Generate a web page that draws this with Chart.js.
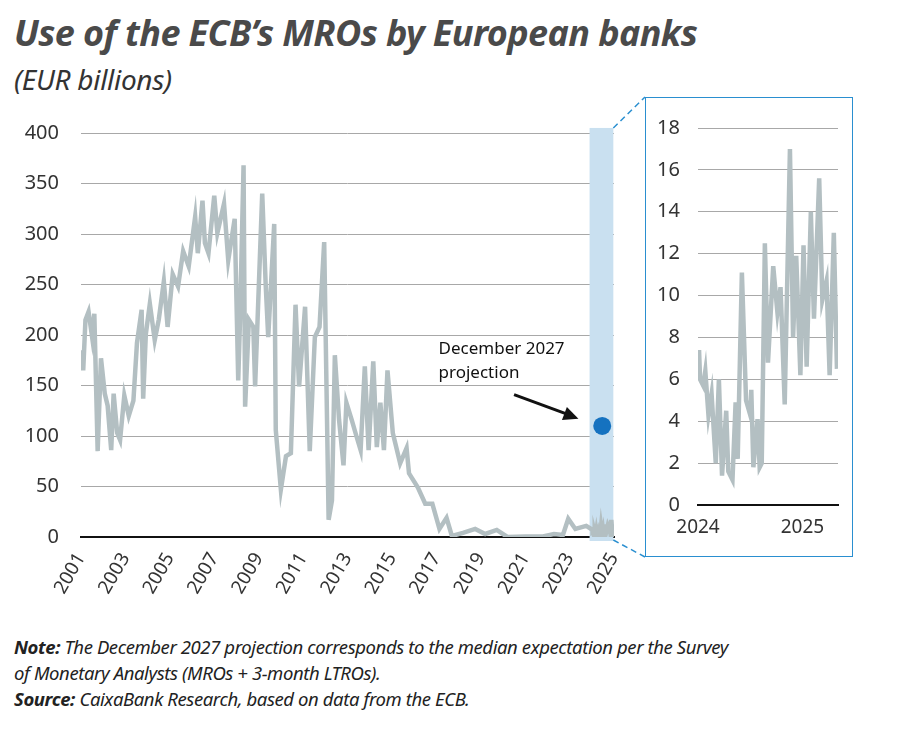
<!DOCTYPE html>
<html><head><meta charset="utf-8">
<script src="https://cdn.jsdelivr.net/npm/chart.js@4/dist/chart.umd.min.js"></script>
<style>
body{margin:0;width:900px;height:748px;background:#fff;position:relative;font-family:"Noto Sans",sans-serif;color:#333;overflow:hidden}
#title{position:absolute;left:14px;top:8px;font-size:36px;font-weight:bold;font-style:italic;color:#4a4a4a;letter-spacing:-0.6px}
#sub{position:absolute;left:14px;top:60px;font-size:28px;font-style:italic;color:#333;letter-spacing:-0.3px}
#main{position:absolute;left:0;top:90px}
#box{position:absolute;left:645px;top:97px;width:206px;height:458px;border:1.5px solid #2a8fd0}
#inset{position:absolute;left:0;top:0}
#note{position:absolute;left:14px;top:634px;font-size:18.5px;font-style:italic;line-height:26px;color:#222;width:850px;letter-spacing:-0.4px}
</style></head><body>
<div id="title">Use of the ECB’s MROs by European banks</div>
<div id="sub">(EUR billions)</div>
<canvas id="main" width="660" height="520" style="width:660px;height:520px"></canvas>
<div id="box"><canvas id="inset" width="206" height="458" style="width:206px;height:458px"></canvas></div>
<div id="note"><b>Note:</b> The December 2027 projection corresponds to the median expectation per the Survey<br>of Monetary Analysts (MROs + 3-month LTROs).<br><b>Source:</b> CaixaBank Research, based on data from the ECB.</div>
<script>
// main series: decimal year / EUR bn
var mainYears = [2001.0,2001.1,2001.2,2001.34,2001.5,2001.6,2001.75,2001.9,2002.07,2002.2,2002.36,2002.47,2002.63,2002.76,2002.95,2003.15,2003.36,2003.52,2003.73,2003.8,2003.92,2004.1,2004.32,2004.5,2004.73,2004.9,2005.13,2005.37,2005.6,2005.85,2006.14,2006.26,2006.47,2006.58,2006.74,2007.0,2007.14,2007.44,2007.63,2007.92,2008.08,2008.16,2008.32,2008.39,2008.56,2008.76,2008.84,2009.16,2009.32,2009.43,2009.7,2009.77,2010.0,2010.23,2010.45,2010.66,2010.82,2011.09,2011.3,2011.53,2011.74,2011.95,2012.15,2012.3,2012.43,2012.62,2012.82,2012.95,2013.19,2013.4,2013.59,2013.78,2013.95,2014.16,2014.32,2014.48,2014.64,2014.8,2015.04,2015.37,2015.66,2015.77,2016.17,2016.5,2016.82,2017.14,2017.46,2017.7,2018.2,2018.75,2019.2,2019.72,2020.2,2021.0,2021.8,2022.3,2022.7,2022.94,2023.26,2023.75];
var mainValues = [185,165,215,223,198,221,85,177,142,130,86,142,103,96,140,120,135,192,225,137,201,231,195,215,253,208,260,248,283,268,317,281,333,291,281,338,301,330,274,315,155,215,368,129,215,208,149,340,248,198,310,106,47,80,83,230,149,228,85,198,208,292,17,36,180,116,71,133,116,100,86,169,86,174,89,133,86,165,103,73,88,63,49,33,33,8,19,1,4,8,3,7,0,0.5,0.5,3,2,18,8,11];
// 2024-2025 detail (inset)
var insetYears = [2024.01,2024.02,2024.05,2024.07,2024.10,2024.13,2024.17,2024.20,2024.23,2024.27,2024.29,2024.33,2024.36,2024.38,2024.42,2024.46,2024.50,2024.51,2024.53,2024.57,2024.59,2024.61,2024.64,2024.67,2024.72,2024.76,2024.79,2024.83,2024.88,2024.91,2024.94,2024.98,2025.01,2025.04,2025.08,2025.11,2025.16,2025.19,2025.23,2025.26,2025.30,2025.33];
var insetValues = [7.4,6,5.7,6.4,4.3,5.3,2.0,6,1.4,4.5,1.6,1.2,4.9,2.2,11.1,5,4.3,5.5,1.8,4.1,1.8,2.0,12.5,6.8,11.4,9.2,10.4,4.8,17.0,8,11.9,6.2,12.4,6.6,14,8.9,15.6,9.8,10.7,6.2,13,6.5];
var projYear = 2024.47, projValue = 110;
var bandFrom = 2023.9, bandTo = 2024.97, bandTop = 405;
var mainTicks = [2001,2003,2005,2007,2009,2011,2013,2015,2017,2019,2021,2023,2025];

var lineColor = '#b3bfc2';
var mainPts = mainYears.map(function(x,i){return {x:x,y:mainValues[i]};})
  .concat(insetYears.map(function(x,i){return {x:x,y:insetValues[i]};}));

var extras = {
  id:'extras',
  beforeDatasetsDraw:function(c){
    var x=c.scales.x,y=c.scales.y,ctx=c.ctx;
    ctx.save();ctx.fillStyle='#c9e0f0';
    ctx.fillRect(x.getPixelForValue(bandFrom),y.getPixelForValue(bandTop),x.getPixelForValue(bandTo)-x.getPixelForValue(bandFrom),y.getPixelForValue(0)-y.getPixelForValue(bandTop)+4);
    ctx.restore();
  },
  afterDraw:function(c){
    var x=c.scales.x,y=c.scales.y,ctx=c.ctx;
    ctx.save();
    // dashed connectors to the inset box
    var bx=x.getPixelForValue(bandTo);
    ctx.strokeStyle='#2a8fd0';ctx.lineWidth=1.5;ctx.setLineDash([6,4]);
    ctx.beginPath();ctx.moveTo(bx,y.getPixelForValue(bandTop));ctx.lineTo(645,7);
    ctx.moveTo(bx,y.getPixelForValue(0)+3);ctx.lineTo(645,467);ctx.stroke();
    ctx.setLineDash([]);
    // arrow
    var x1=x.getPixelForValue(2020.5),y1=y.getPixelForValue(141);
    var x2=x.getPixelForValue(2023.4),y2=y.getPixelForValue(117);
    ctx.strokeStyle='#111';ctx.fillStyle='#111';ctx.lineWidth=3;
    ctx.beginPath();ctx.moveTo(x1,y1);ctx.lineTo(x2-8,y2-3.5);ctx.stroke();
    var a=Math.atan2(y2-y1,x2-x1);
    ctx.beginPath();ctx.moveTo(x2,y2);
    ctx.lineTo(x2-15*Math.cos(a)+7*Math.sin(a),y2-15*Math.sin(a)-7*Math.cos(a));
    ctx.lineTo(x2-15*Math.cos(a)-7*Math.sin(a),y2-15*Math.sin(a)+7*Math.cos(a));
    ctx.closePath();ctx.fill();
    ctx.font='17px "Noto Sans"';ctx.textAlign='left';
    ctx.fillText('December 2027',x.getPixelForValue(2017.1),y.getPixelForValue(181));
    ctx.fillText('projection',x.getPixelForValue(2017.1),y.getPixelForValue(157));
    ctx.restore();
  }
};

new Chart(document.getElementById('main'),{
  type:'scatter',
  data:{datasets:[
    {data:mainPts,showLine:true,borderColor:lineColor,borderWidth:4.5,pointRadius:0,tension:0,order:2},
    {data:[{x:projYear,y:projValue}],pointRadius:9,pointBackgroundColor:'#1572c0',pointBorderWidth:0,order:1}
  ]},
  options:{
    responsive:false,animation:false,
    layout:{padding:{top:43,right:46,left:0,bottom:0}},
    plugins:{legend:{display:false},tooltip:{enabled:false}},
    scales:{
      x:{type:'linear',min:2001,max:2025,
        afterBuildTicks:function(s){s.ticks=mainTicks.map(function(v){return {value:v};});},
        afterFit:function(s){s.height=73;},
        grid:{display:false,drawTicks:true,tickLength:8,tickColor:'#111'},
        border:{color:'#111',width:2},
        ticks:{color:'#333',font:{size:19,family:'Noto Sans'},minRotation:60,maxRotation:60,padding:4,callback:function(v){return String(v);}}},
      y:{min:0,max:400,
        afterFit:function(s){s.width=81;},
        grid:{color:'#a8a8a8',lineWidth:1,drawTicks:false},
        border:{display:false},
        ticks:{stepSize:50,color:'#333',font:{size:20,family:'Noto Sans'},padding:22}}
    }
  },
  plugins:[extras]
});

new Chart(document.getElementById('inset'),{
  type:'scatter',
  data:{datasets:[{data:insetYears.map(function(x,i){return {x:x,y:insetValues[i]};}),showLine:true,borderColor:lineColor,borderWidth:4.5,pointRadius:0,tension:0}]},
  options:{
    responsive:false,animation:false,
    layout:{padding:{top:28,right:14,left:0,bottom:0}},
    plugins:{legend:{display:false},tooltip:{enabled:false}},
    scales:{
      x:{type:'linear',min:2024,max:2025.34,
        afterBuildTicks:function(s){s.ticks=[{value:2024},{value:2025}];},
        afterFit:function(s){s.height=51;},
        grid:{display:false,drawTicks:true,tickLength:7,tickColor:'#111'},
        border:{color:'#111',width:2},
        ticks:{color:'#333',font:{size:19,family:'Noto Sans'},maxRotation:0,padding:4,callback:function(v){return String(v);}}},
      y:{min:0,max:18,
        afterFit:function(s){s.width=52;},
        grid:{color:'#a8a8a8',lineWidth:1,drawTicks:false},
        border:{display:false},
        ticks:{stepSize:2,color:'#333',font:{size:20,family:'Noto Sans'},padding:18}}
    }
  }
});
</script>
</body></html>
